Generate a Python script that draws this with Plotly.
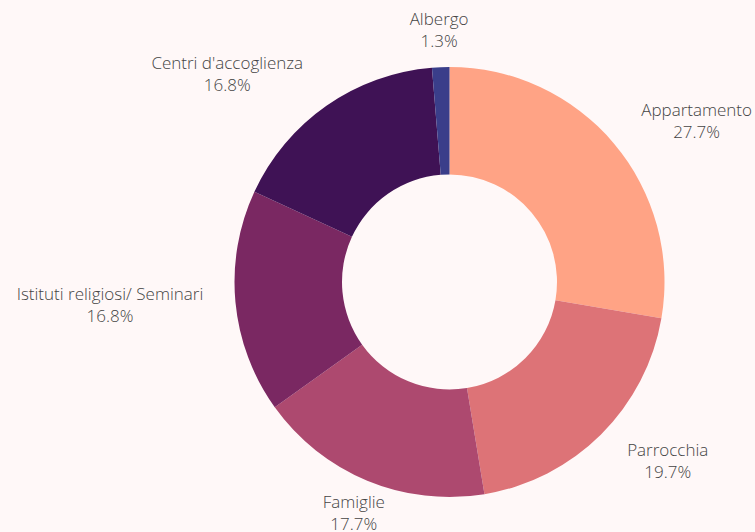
import plotly.graph_objects as go

labels = ["Appartamento", "Parrocchia", "Famiglie", "Istituti religiosi/ Seminari", "Centri d'accoglienza", "Albergo"]
shares = [27.7, 19.7, 17.7, 16.8, 16.8, 1.3]
colors = ["#FFA385", "#DD7377", "#AD496F", "#7A2862", "#3F1255", "#3A3E8A"]

W, H = 755, 532
BG = "#FFF8F8"
cx, cy = 449.5, 250   # pie centre, y measured from bottom
r_pie = 215
r_text = 236          # labels sit a little further out than the ring


def domain(rad, dx=0, dy=0):
    x0, y0 = cx + dx, cy + dy
    return dict(x=[(x0 - rad) / W, (x0 + rad) / W], y=[(y0 - rad) / H, (y0 + rad) / H])


def label_ring(show, dx=0, dy=0):
    # transparent copy of the pie that only carries some of the outside labels
    return go.Pie(
        labels=labels,
        values=shares,
        hole=0.9,
        sort=False,
        direction="clockwise",
        rotation=0,
        marker=dict(colors=["rgba(0,0,0,0)"] * len(labels), line=dict(width=0)),
        textposition=["outside" if lab in show else "none" for lab in labels],
        texttemplate="%{label}<br>%{percent:.1%}",
        textfont=dict(family="Open Sans", size=17, color="#444444", weight=300),
        hoverinfo="skip",
        showlegend=False,
        automargin=False,
        domain=domain(r_text, dx, dy),
    )


fig = go.Figure()

# the visible ring
fig.add_trace(
    go.Pie(
        labels=labels,
        values=shares,
        hole=0.5,
        sort=False,
        direction="clockwise",
        rotation=0,
        marker=dict(colors=colors, line=dict(width=0)),
        textinfo="none",
        hovertemplate="%{label}: %{percent:.1%}<extra></extra>",
        showlegend=False,
        automargin=False,
        domain=domain(r_pie),
    )
)

fig.add_trace(label_ring(["Appartamento", "Parrocchia", "Istituti religiosi/ Seminari", "Centri d'accoglienza"]))
fig.add_trace(label_ring(["Albergo"], dx=40, dy=-6))
fig.add_trace(label_ring(["Famiglie"], dx=37, dy=7))

fig.update_layout(
    width=W,
    height=H,
    margin=dict(l=0, r=0, t=0, b=0, autoexpand=False),
    paper_bgcolor=BG,
    plot_bgcolor=BG,
    font=dict(family="Open Sans"),
)

fig.write_html(
    "out.html",
    config={"responsive": False, "displayModeBar": False},
    post_script=f"document.body.style.margin='0';document.body.style.background='{BG}';",
)
